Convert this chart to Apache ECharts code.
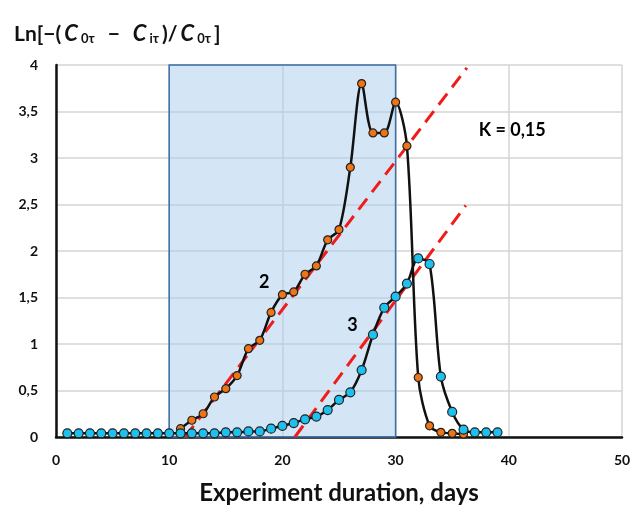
<!DOCTYPE html>
<html>
<head>
<meta charset="utf-8">
<script src="https://cdn.jsdelivr.net/npm/echarts@6/dist/echarts.min.js"></script>
<style>
  html, body { margin: 0; padding: 0; background: #fff; }
  #chart { width: 632px; height: 507px; }
</style>
</head>
<body>
<div id="chart"></div>
<script>
// curve 2 (orange points)
var days2 = [11, 12, 13, 14, 15, 16, 17, 18, 19, 20, 21, 22, 23, 24, 25, 26, 27, 28, 29, 30, 31, 32, 33, 34, 35, 36];
var vals2 = [0.09, 0.18, 0.25, 0.43, 0.52, 0.66, 0.95, 1.04, 1.34, 1.53, 1.56, 1.75, 1.84, 2.12, 2.23, 2.90, 3.80, 3.27, 3.27, 3.60, 3.13, 0.64, 0.12, 0.05, 0.04, 0.03];
// curve 3 (blue points)
var days3 = [1, 2, 3, 4, 5, 6, 7, 8, 9, 10, 11, 12, 13, 14, 15, 16, 17, 18, 19, 20, 21, 22, 23, 24, 25, 26, 27, 28, 29, 30, 31, 32, 33, 34, 35, 36, 37, 38, 39];
var vals3 = [0.04, 0.04, 0.04, 0.04, 0.04, 0.04, 0.04, 0.04, 0.04, 0.04, 0.04, 0.04, 0.04, 0.04, 0.05, 0.05, 0.06, 0.06, 0.09, 0.12, 0.15, 0.19, 0.22, 0.29, 0.40, 0.48, 0.72, 1.10, 1.39, 1.51, 1.65, 1.92, 1.86, 0.65, 0.27, 0.08, 0.05, 0.05, 0.05];
// red dashed trend lines (start / end points)
var trend2 = [[11.4, 0], [36.3, 3.97]];
var trend3 = [[21.1, 0], [36.2, 2.49]];
// shaded interval
var shadeX = [10, 30];
var shadeY = [0, 4];
// annotations
var notes = [
    { text: '2', pos: [18.4, 1.66] },
    { text: '3', pos: [26.2, 1.20] },
    { text: 'K = 0,15', pos: [40.3, 3.30] }
];

function pairs(xs, ys) {
    var out = [];
    for (var i = 0; i < xs.length; i++) out.push([xs[i], ys[i]]);
    return out;
}

var font = 'Lato';
var chart = echarts.init(document.getElementById('chart'));

var option = {
    animation: false,
    backgroundColor: '#fff',
    textStyle: { fontFamily: font },
    title: {
        left: 8,
        top: 18,
        text: '{n|Ln[−(}{c|C}{s|0τ}{m|−}{c|C}{s|iτ}{n|)/}{c|C}{s|0τ}{n|]}',
        textStyle: {
            rich: {
                n: { fontSize: 21, fontWeight: 'bold', color: '#111', fontFamily: font, padding: [0, 1, 0, 1] },
                m: { fontSize: 21, fontWeight: 'bold', color: '#111', fontFamily: font, padding: [0, 11, 0, 11] },
                c: { fontSize: 22, fontWeight: 'bold', fontStyle: 'italic', color: '#111', fontFamily: font, padding: [0, 1, 0, 2] },
                s: { fontSize: 13, fontWeight: 'bold', color: '#111', fontFamily: font, padding: [9, 2, 0, 2] }
            }
        }
    },
    grid: { left: 56, right: 10, top: 65, bottom: 70, outerBoundsMode: 'none' },
    xAxis: {
        type: 'value',
        min: 0, max: 50, interval: 10,
        name: 'Experiment duration, days',
        nameLocation: 'middle',
        nameGap: 44,
        nameTextStyle: { fontSize: 24, fontWeight: 'bold', color: '#111', fontFamily: font },
        axisLine: { show: true, lineStyle: { color: '#111', width: 2.5 } },
        axisTick: { show: false },
        axisLabel: { margin: 16, fontSize: 14, fontWeight: 'bold', color: '#111' },
        splitLine: { show: true, lineStyle: { color: '#d4d4d4', width: 1.5 } }
    },
    yAxis: {
        type: 'value',
        min: 0, max: 4, interval: 0.5,
        axisLine: { show: true, lineStyle: { color: '#111', width: 2.5 } },
        axisTick: { show: false },
        axisLabel: {
            margin: 18, fontSize: 14, fontWeight: 'bold', color: '#111',
            formatter: function (v) { return String(v).replace('.', ','); }
        },
        splitLine: { show: true, lineStyle: { color: '#d4d4d4', width: 1.5 } }
    },
    series: [
        {
            name: 'shade',
            type: 'line',
            data: [],
            markArea: {
                silent: true,
                itemStyle: { color: 'rgba(170,205,238,0.5)', borderColor: '#3d6ea8', borderWidth: 1.5 },
                data: [[{ coord: [shadeX[0], shadeY[0]] }, { coord: [shadeX[1], shadeY[1]] }]]
            }
        },
        {
            name: 'trend2',
            type: 'line',
            data: trend2,
            symbol: 'none',
            lineStyle: { color: '#f01c1c', width: 3, type: [14, 8] },
            z: 3
        },
        {
            name: 'trend3',
            type: 'line',
            data: trend3,
            symbol: 'none',
            lineStyle: { color: '#f01c1c', width: 3, type: [14, 8] },
            z: 3
        },
        {
            name: '2',
            type: 'line',
            data: pairs(days2, vals2),
            smooth: 0.3,
            symbol: 'circle',
            symbolSize: 8,
            lineStyle: { color: '#111', width: 2.5 },
            itemStyle: { color: '#ee7416', borderColor: '#222', borderWidth: 1.2 },
            z: 4
        },
        {
            name: '3',
            type: 'line',
            data: pairs(days3, vals3),
            smooth: 0.3,
            symbol: 'circle',
            symbolSize: 9,
            lineStyle: { color: '#111', width: 2.5 },
            itemStyle: { color: '#1ec0ee', borderColor: '#222', borderWidth: 1.2 },
            z: 5
        },
        {
            name: 'notes',
            type: 'scatter',
            symbolSize: 0,
            itemStyle: { opacity: 1 },
            data: notes.map(function (n) { return { value: n.pos, name: n.text }; }),
            label: {
                show: true,
                position: 'inside',
                formatter: function (p) { return p.name; },
                fontSize: 18,
                fontWeight: 'bold',
                color: '#000',
                fontFamily: font
            },
            z: 6
        }
    ]
};

option && chart.setOption(option);
</script>
</body>
</html>
